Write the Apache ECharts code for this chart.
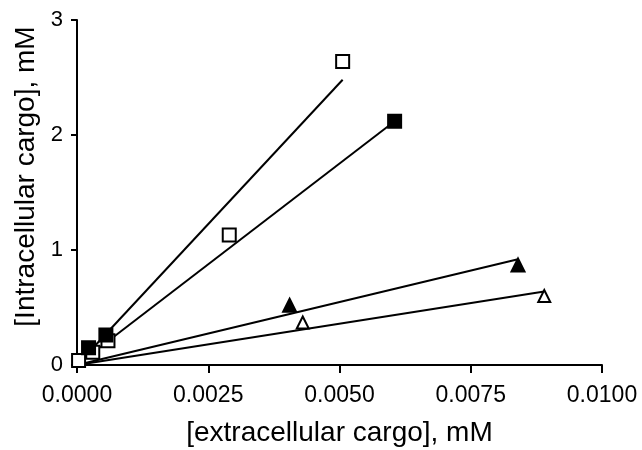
<!DOCTYPE html>
<html lang="en">
<head>
    <meta charset="UTF-8">
    <title>cargo</title>
    <script src="https://cdn.jsdelivr.net/npm/echarts@6/dist/echarts.min.js"></script>
    <style>
        html, body { margin: 0; height: 100%; background: #fff; }
        #app { width: 642px; height: 450px; }
    </style>
</head>
<body>
<div id="app"></div>
<script>
    // measured points [extracellular, intracellular] in mM
    var openSquares = [[0.00003, 0.04], [0.0003, 0.11], [0.00059, 0.21], [0.0029, 1.13], [0.00506, 2.64]];
    var filledSquares = [[0.00022, 0.15], [0.00055, 0.26], [0.00605, 2.12]];
    var filledTriangles = [[0.00405, 0.52], [0.0084, 0.87]];
    var openTriangles = [[0.0043, 0.37], [0.0089, 0.60]];

    // fitted lines, start and end
    var fitOpenSquares = [[0, 0], [0.00506, 2.48]];
    var fitFilledSquares = [[0, 0], [0.00605, 2.12]];
    var fitFilledTriangles = [[0, 0], [0.0084, 0.92]];
    var fitOpenTriangles = [[0, 0], [0.0089, 0.64]];

    var font = 'Liberation Sans, Arial, sans-serif';

    function fit(data) {
        return {
            type: 'line', data: data, symbol: 'none', silent: true,
            lineStyle: { color: '#000', width: 2 }, z: 2, animation: false
        };
    }
    function pts(data, symbol, filled, size) {
        return {
            type: 'scatter', data: data, symbol: symbol, symbolSize: size,
            itemStyle: { color: filled ? '#000' : '#fff', borderColor: '#000', borderWidth: 2, opacity: 1 },
            z: 3, clip: false, animation: false
        };
    }

    var option = {
        grid: { left: 77, right: 40, top: 20, bottom: 85, containLabel: false, outerBoundsMode: 'none' },
        xAxis: {
            type: 'value', min: 0, max: 0.01, interval: 0.0025,
            name: '[extracellular cargo], mM', nameLocation: 'middle', nameGap: 54,
            nameTextStyle: { color: '#000', fontSize: 28, fontFamily: font },
            splitLine: { show: false },
            axisLine: { lineStyle: { color: '#000', width: 2 } },
            axisTick: { length: 8, lineStyle: { color: '#000', width: 2 } },
            axisLabel: {
                color: '#000', fontSize: 23, fontFamily: font, margin: 19,
                formatter: function (v) { return v.toFixed(4); }
            }
        },
        yAxis: {
            type: 'value', min: 0, max: 3, interval: 1,
            name: '[Intracellular cargo], mM', nameLocation: 'middle', nameGap: 35,
            nameTextStyle: { color: '#000', fontSize: 28, fontFamily: font, padding: [0, 0, 0, 32] },
            splitLine: { show: false },
            axisLine: { show: true, lineStyle: { color: '#000', width: 2 } },
            axisTick: { show: true, length: 6, lineStyle: { color: '#000', width: 2 } },
            axisLabel: { color: '#000', fontSize: 22, fontFamily: font, margin: 14 }
        },
        series: [
            fit(fitOpenSquares),
            fit(fitFilledSquares),
            fit(fitFilledTriangles),
            fit(fitOpenTriangles),
            pts(openSquares, 'rect', false, 13),
            pts(filledSquares, 'rect', true, 13),
            pts(filledTriangles, 'triangle', true, 13),
            pts(openTriangles, 'triangle', false, 12)
        ]
    };
    var myChart = echarts.init(document.getElementById('app'));
    myChart.setOption(option);
</script>
</body>
</html>
